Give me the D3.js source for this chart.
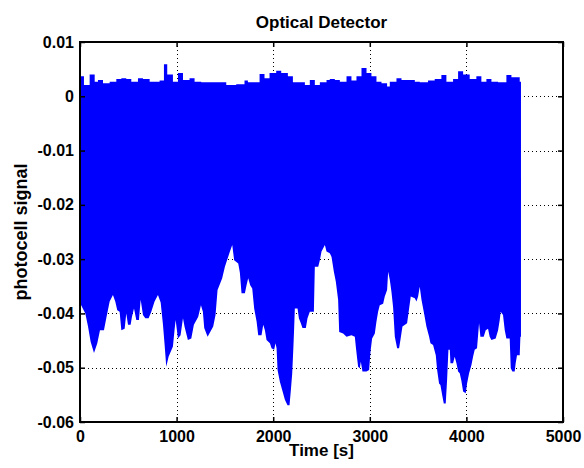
<!DOCTYPE html>
<html><head><meta charset="utf-8">
<script src="https://cdn.jsdelivr.net/npm/d3@7"></script>
<style>body{margin:0;background:#fff}</style>
</head><body>
<svg id="c" width="584" height="468"></svg>
<script>
// ---- data ----
const titleText = "Optical Detector";
const xLabel = "Time [s]";
const yLabel = "photocell signal";
const xTicks = [0, 1000, 2000, 3000, 4000, 5000];
const xTickLabels = ["0", "1000", "2000", "3000", "4000", "5000"];
const yTicks = [-0.06, -0.05, -0.04, -0.03, -0.02, -0.01, 0, 0.01];
const yTickLabels = ["-0.06", "-0.05", "-0.04", "-0.03", "-0.02", "-0.01", "0", "0.01"];

// upper envelope of the signal: [time, value]
const upperEdge = [
 [0,0.0037],[41,0.0021],[100,0.0040],[152,0.0027],[186,0.0030],[238,0.0024],[307,0.0027],
 [376,0.0032],[428,0.0033],[479,0.0032],[531,0.0027],[600,0.0033],[652,0.0032],[721,0.0027],
 [824,0.0029],[869,0.0059],[903,0.0040],[962,0.0027],[1014,0.0043],[1066,0.0030],[1134,0.0033],
 [1186,0.0027],[1255,0.0026],[1514,0.0021],[1617,0.0022],[1703,0.0029],[1738,0.0026],[1859,0.0041],
 [1910,0.0033],[1962,0.0043],[2031,0.0047],[2083,0.0043],[2152,0.0037],[2204,0.0026],[2328,0.0021],
 [2379,0.0030],[2431,0.0021],[2483,0.0026],[2552,0.0030],[2586,0.0032],[2638,0.0030],[2690,0.0027],
 [2759,0.0037],[2810,0.0029],[2862,0.0037],[2914,0.0052],[2966,0.0043],[3017,0.0037],[3069,0.0027],
 [3121,0.0024],[3179,0.0018],[3207,0.0027],[3276,0.0033],[3328,0.0030],[3466,0.0027],[3517,0.0026],
 [3603,0.0029],[3672,0.0032],[3741,0.0039],[3793,0.0027],[3862,0.0032],[3914,0.0046],[3966,0.0040],
 [4034,0.0032],[4103,0.0037],[4155,0.0027],[4207,0.0032],[4259,0.0027],[4328,0.0026],[4414,0.0039],
 [4466,0.0035],[4552,0.0027],[4565,0.0027]
];

// lower envelope of the signal: [time, value]
const lowerEdge = [
 [0,-0.0381],[55,-0.0400],[83,-0.0424],[110,-0.0452],[145,-0.0473],[179,-0.0455],[207,-0.0431],
 [248,-0.0431],[272,-0.0409],[307,-0.0378],[341,-0.0366],[365,-0.0378],[386,-0.0394],[410,-0.0397],
 [428,-0.0431],[462,-0.0428],[479,-0.0400],[497,-0.0421],[524,-0.0421],[538,-0.0406],[559,-0.0391],
 [583,-0.0412],[610,-0.0412],[628,-0.0375],[652,-0.0403],[676,-0.0409],[710,-0.0409],[738,-0.0397],
 [772,-0.0378],[807,-0.0366],[835,-0.0380],[859,-0.0421],[876,-0.0458],[893,-0.0498],[917,-0.0480],
 [962,-0.0461],[979,-0.0430],[990,-0.0412],[1014,-0.0446],[1041,-0.0440],[1066,-0.0409],[1083,-0.0425],
 [1117,-0.0449],[1152,-0.0446],[1179,-0.0421],[1224,-0.0406],[1252,-0.0385],[1272,-0.0397],[1286,-0.0427],
 [1321,-0.0443],[1379,-0.0424],[1403,-0.0403],[1424,-0.0357],[1472,-0.0335],[1500,-0.0314],[1517,-0.0305],
 [1552,-0.0286],[1576,-0.0274],[1596,-0.0302],[1638,-0.0308],[1655,-0.0325],[1672,-0.0363],[1707,-0.0363],
 [1724,-0.0348],[1741,-0.0335],[1762,-0.0348],[1783,-0.0354],[1803,-0.0391],[1828,-0.0415],[1845,-0.0440],
 [1879,-0.0440],[1897,-0.0421],[1914,-0.0431],[1931,-0.0449],[1966,-0.0455],[1983,-0.0464],[2010,-0.0467],
 [2024,-0.0455],[2035,-0.0464],[2045,-0.0504],[2069,-0.0526],[2093,-0.0541],[2121,-0.0559],[2148,-0.0569],
 [2169,-0.0569],[2183,-0.0541],[2197,-0.0510],[2210,-0.0458],[2217,-0.0427],[2224,-0.0391],[2252,-0.0391],
 [2266,-0.0409],[2286,-0.0418],[2303,-0.0427],[2338,-0.0427],[2355,-0.0409],[2379,-0.0397],[2421,-0.0397],
 [2431,-0.0314],[2466,-0.0314],[2483,-0.0302],[2500,-0.0286],[2535,-0.0274],[2552,-0.0286],[2586,-0.0289],
 [2604,-0.0296],[2628,-0.0323],[2648,-0.0341],[2672,-0.0375],[2683,-0.0434],[2724,-0.0437],[2759,-0.0443],
 [2810,-0.0440],[2845,-0.0443],[2855,-0.0461],[2869,-0.0483],[2879,-0.0498],[2897,-0.0501],[2907,-0.0489],
 [2924,-0.0507],[2966,-0.0507],[2993,-0.0504],[3007,-0.0471],[3024,-0.0446],[3052,-0.0437],[3069,-0.0415],
 [3086,-0.0397],[3103,-0.0385],[3138,-0.0382],[3155,-0.0369],[3179,-0.0357],[3190,-0.0323],[3207,-0.0338],
 [3224,-0.0360],[3241,-0.0388],[3259,-0.0443],[3283,-0.0464],[3303,-0.0464],[3317,-0.0449],[3338,-0.0424],
 [3386,-0.0418],[3407,-0.0391],[3424,-0.0369],[3466,-0.0372],[3483,-0.0378],[3500,-0.0369],[3517,-0.0351],
 [3535,-0.0375],[3562,-0.0400],[3586,-0.0424],[3614,-0.0443],[3628,-0.0455],[3655,-0.0458],[3683,-0.0477],
 [3697,-0.0504],[3717,-0.0529],[3731,-0.0532],[3752,-0.0553],[3766,-0.0566],[3786,-0.0566],[3800,-0.0523],
 [3814,-0.0467],[3828,-0.0467],[3835,-0.0492],[3862,-0.0492],[3879,-0.0480],[3897,-0.0492],[3914,-0.0507],
 [3931,-0.0510],[3948,-0.0524],[3966,-0.0544],[3993,-0.0547],[4007,-0.0529],[4028,-0.0510],[4052,-0.0495],
 [4069,-0.0480],[4086,-0.0467],[4110,-0.0464],[4131,-0.0418],[4145,-0.0443],[4179,-0.0443],[4200,-0.0431],
 [4224,-0.0428],[4241,-0.0443],[4259,-0.0449],[4303,-0.0446],[4328,-0.0431],[4345,-0.0412],[4355,-0.0397],
 [4379,-0.0403],[4397,-0.0431],[4414,-0.0446],[4448,-0.0446],[4459,-0.0501],[4476,-0.0507],[4500,-0.0507],
 [4510,-0.0492],[4524,-0.0477],[4552,-0.0477],[4559,-0.0443],[4565,-0.0443]
];

// ---- drawing ----
const svg = d3.select("#c");
const PL = 80, PR = 563, PT = 42, PB = 422;
const x = d3.scaleLinear().domain([0, 5000]).range([PL, PR]);
const y = d3.scaleLinear().domain([-0.06, 0.01]).range([PB, PT]);
const font = "'Liberation Sans', Arial, Helvetica, sans-serif";

svg.append("rect").attr("x", PL).attr("y", PT).attr("width", PR - PL).attr("height", PB - PT).attr("fill", "#fff");

// grid
const grid = svg.append("g").attr("stroke", "#000").attr("stroke-width", 1).attr("stroke-dasharray", "1,3");
grid.selectAll("line.gx").data(xTicks.slice(1, -1)).join("line")
  .attr("x1", d => Math.round(x(d)) + 0.5).attr("x2", d => Math.round(x(d)) + 0.5)
  .attr("y1", PT).attr("y2", PB);
grid.selectAll("line.gy").data(yTicks.slice(1, -1)).join("line")
  .attr("y1", d => Math.round(y(d)) + 0.5).attr("y2", d => Math.round(y(d)) + 0.5)
  .attr("x1", PL).attr("x2", PR);

// signal fill
svg.append("defs").append("clipPath").attr("id", "clip")
  .append("rect").attr("x", PL).attr("y", PT).attr("width", PR - PL).attr("height", PB - PT);
const plot = svg.append("g").attr("clip-path", "url(#clip)");
const upperArea = d3.area().x(d => x(d[0])).y0(y(-0.02)).y1(d => y(d[1])).curve(d3.curveStepAfter);
const lowerArea = d3.area().x(d => x(d[0])).y0(y(-0.015)).y1(d => y(d[1])).curve(d3.curveLinear);
plot.append("path").datum(upperEdge).attr("d", upperArea).attr("fill", "#0000ff");
plot.append("path").datum(lowerEdge).attr("d", lowerArea).attr("fill", "#0000ff");

// axes box with inward ticks
const axisG = svg.append("g");
const axBottom = d3.axisBottom(x).tickValues(xTicks).tickFormat((d, i) => xTickLabels[i]).tickSizeInner(-5).tickSizeOuter(0).tickPadding(9);
const axTop = d3.axisTop(x).tickValues(xTicks).tickFormat("").tickSizeInner(-5).tickSizeOuter(0);
const axLeft = d3.axisLeft(y).tickValues(yTicks).tickFormat((d, i) => yTickLabels[i]).tickSizeInner(-5).tickSizeOuter(0).tickPadding(6);
const axRight = d3.axisRight(y).tickValues(yTicks).tickFormat("").tickSizeInner(-5).tickSizeOuter(0);
[
  [axBottom, `translate(0,${PB})`], [axTop, `translate(0,${PT})`],
  [axLeft, `translate(${PL},0)`], [axRight, `translate(${PR},0)`]
].forEach(([ax, tr]) => {
  const g = axisG.append("g").attr("transform", tr).call(ax);
  g.select(".domain").remove();
  g.selectAll(".tick line").attr("stroke", "#000").attr("stroke-width", 1.5);
  g.selectAll(".tick text").attr("fill", "#000").attr("font-family", font)
    .attr("font-size", 16).attr("font-weight", "bold");
});
svg.append("rect").attr("x", PL).attr("y", PT).attr("width", PR - PL).attr("height", PB - PT)
  .attr("fill", "none").attr("stroke", "#000").attr("stroke-width", 2);

// titles
svg.append("text").attr("x", (PL + PR) / 2).attr("y", 28).attr("text-anchor", "middle")
  .attr("font-family", font).attr("font-size", 17).attr("font-weight", "bold").text(titleText);
svg.append("text").attr("x", (PL + PR) / 2).attr("y", 456).attr("text-anchor", "middle")
  .attr("font-family", font).attr("font-size", 17).attr("font-weight", "bold").text(xLabel);
svg.append("text").attr("transform", `translate(27,${(PT + PB) / 2}) rotate(-90)`).attr("text-anchor", "middle")
  .attr("font-family", font).attr("font-size", 18).attr("font-weight", "bold").text(yLabel);
</script>
</body></html>
